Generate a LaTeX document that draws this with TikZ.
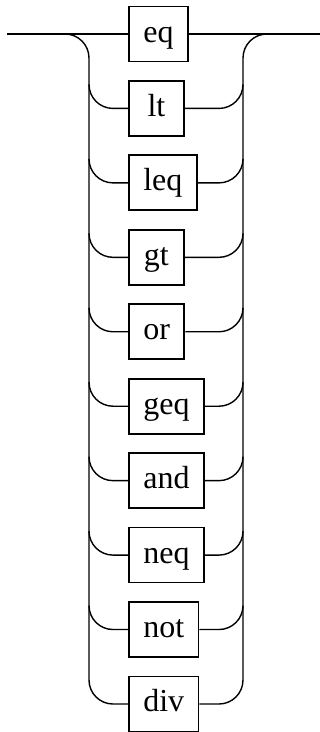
\documentclass[tikz,border=0pt]{standalone}
\usepackage{fontspec}
\setmainfont{Liberation Serif}
\begin{document}
\begin{tikzpicture}[x=1pt,y=1pt,
  term/.style={draw, line width=1.8pt, minimum width=55pt, minimum height=55pt,
    inner xsep=14.4pt, inner ysep=0pt, text height=16pt, text depth=0pt,
    font=\fontsize{32}{32}\selectfont, anchor=west},
  rail/.style={line width=1.4pt}]
\useasboundingbox (0,0) rectangle (320,-732);
\def\rr{24}
\def\lx{89}
\def\rx{243}
% entry and exit of the choice
\coordinate (in) at (7,-34);
\coordinate (out) at (320,-34);
% alternatives, one per row
\foreach \w [count=\i from 0] in {eq,lt,leq,gt,or,geq,and,neq,not,div}{
  \node[term] (\w) at (128,{-34-74.44*\i}) {\w};
}
% straight-through branch
\draw[rail] (in) -- (eq.west);
\draw[rail] (eq.east) -- (out);
% left rail down to the last branch
\draw[rail] ({\lx-\rr},-34) arc[start angle=90,end angle=0,radius=\rr]
  -- (\lx,{-704.0+\rr})
  arc[start angle=180,end angle=270,radius=\rr] -- (div.west);
% right rail up from the last branch
\draw[rail] (div.east) -- ({\rx-\rr},-704.0)
  arc[start angle=270,end angle=360,radius=\rr] -- (\rx,{-34-\rr})
  arc[start angle=180,end angle=90,radius=\rr];
% middle branches
\foreach \w in {lt,leq,gt,or,geq,and,neq,not}{
  \path (\w.west) coordinate (wy);
  \draw[rail] (\lx,0 |- wy) ++(0,\rr) arc[start angle=180,end angle=270,radius=\rr] -- (\w.west);
  \draw[rail] (\w.east) -- ({\rx-\rr},0 |- wy) arc[start angle=270,end angle=360,radius=\rr];
}
\end{tikzpicture}
\end{document}
